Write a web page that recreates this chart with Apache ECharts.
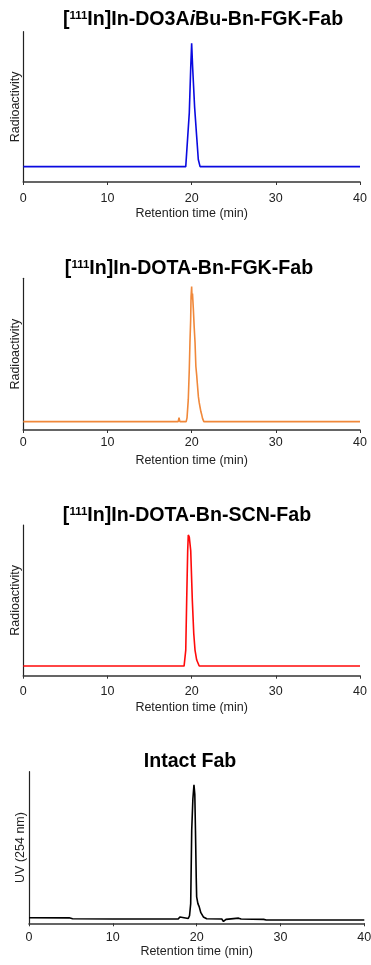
<!DOCTYPE html>
<html><head><meta charset="utf-8">
<script src="https://cdn.jsdelivr.net/npm/echarts@6/dist/echarts.min.js"></script>
<style>html,body{margin:0;padding:0;background:#fff}#c{width:371px;height:965px}</style>
</head><body><div id="c"></div>
<script>
var xTicks = [0, 10, 20, 30, 40];
var titles = ['[{sup|111}In]In-DO3A{it|i}Bu-Bn-FGK-Fab', '[{sup|111}In]In-DOTA-Bn-FGK-Fab', '[{sup|111}In]In-DOTA-Bn-SCN-Fab', 'Intact Fab'];
var yNames = ['Radioactivity', 'Radioactivity', 'Radioactivity', 'UV (254 nm)'];
var xName = 'Retention time (min)';
var trace1 = [[0,10.2],[19.3,10.2],[19.45,11],[19.72,46],[19.89,76],[20.0,92.3],[20.12,76],[20.35,50],[20.6,30],[20.79,15],[21.0,10.2],[40,10.2]];
var trace2 = [[0,5.5],[17.7,5.5],[17.8,6.2],[17.9,5.5],[18.4,5.5],[18.5,8.1],[18.6,5.5],[19.35,5.5],[19.45,8],[19.6,20],[19.72,40],[19.8,58],[19.88,72],[19.93,88],[20.0,94.5],[20.05,86],[20.1,90],[20.2,80],[20.3,68],[20.4,58],[20.5,42],[20.6,36],[20.67,31],[20.8,22],[20.9,18],[21.0,15],[21.1,12],[21.2,10],[21.3,7.5],[21.45,5.5],[40,5.5]];
var trace3 = [[0,6.4],[19.1,6.4],[19.3,17],[19.41,50],[19.53,83],[19.6,93.4],[19.72,92],[19.89,83],[20.08,50],[20.25,28],[20.4,17],[20.6,10.4],[20.9,6.4],[40,6.4]];
var trace4 = [[0,3.7],[4.8,3.6],[5.2,3.0],[10,2.8],[17.8,2.8],[18.0,4.2],[18.2,3.0],[19.0,3.2],[19.15,5],[19.29,13],[19.41,61],[19.55,82],[19.68,91.3],[19.78,85],[19.86,61],[19.95,30],[20.0,17.5],[20.15,13],[20.3,11],[20.5,7],[20.8,4.2],[21.2,3.0],[23.0,2.8],[23.2,1.2],[23.5,2.6],[25,3.4],[25.3,2.8],[28,2.6],[28.3,2.2],[40,2.2]];
var traces = [trace1, trace2, trace3, trace4];
var colors = ['#0a0ae0', '#f0883a', '#ff0a0a', '#000000'];

var FONT = "'Liberation Sans', Arial, sans-serif";
var grids = [
  {left: 23.3, top: 31.7, width: 336.7, height: 150.3},
  {left: 23.3, top: 278.3, width: 336.7, height: 151.7},
  {left: 23.3, top: 525, width: 336.7, height: 150.7},
  {left: 29, top: 771.7, width: 335.3, height: 151.6}
];
var titlePos = [{x: 198, y: 5}, {x: 184, y: 254}, {x: 182, y: 501}, {x: 185, y: 747}];
var labelMargin = [10.5, 6.5, 9.5, 7.5];
var nameGaps = [25, 24, 25, 12.5];

var option = {
  animation: false,
  title: titles.map(function (t, i) {
    return {
      text: t, left: titlePos[i].x, top: titlePos[i].y, textAlign: 'center',
      textStyle: {
        fontFamily: FONT, fontSize: 19.6, fontWeight: 'bold', color: '#000',
        rich: {
          sup: {fontFamily: FONT, fontSize: 11.5, fontWeight: 'bold', color: '#000', verticalAlign: 'top'},
          it: {fontFamily: FONT, fontSize: 19.6, fontWeight: 'bold', fontStyle: 'italic', color: '#000'}
        }
      }
    };
  }),
  grid: grids.map(function (g) { return Object.assign({outerBoundsMode: 'none', containLabel: false}, g); }),
  xAxis: grids.map(function (g, i) {
    return {
      type: 'value', gridIndex: i, min: xTicks[0], max: xTicks[xTicks.length - 1], interval: 10,
      name: xName, nameLocation: 'middle', nameGap: nameGaps[i],
      nameTextStyle: {fontFamily: FONT, fontSize: 12.5, color: '#222'},
      axisLine: {show: true, lineStyle: {color: '#333', width: 1.6}},
      axisTick: {show: true, length: 3, lineStyle: {color: '#333'}},
      axisLabel: {fontFamily: FONT, fontSize: 12.5, color: '#222', margin: labelMargin[i]},
      splitLine: {show: false}
    };
  }),
  yAxis: grids.map(function (g, i) {
    return {
      type: 'value', gridIndex: i, min: 0, max: 100,
      name: yNames[i], nameLocation: 'middle', nameGap: 1.5,
      nameTextStyle: {fontFamily: FONT, fontSize: 12.5, color: '#222'},
      axisLine: {show: true, lineStyle: {color: '#222', width: 1.2}},
      axisTick: {show: false}, axisLabel: {show: false}, splitLine: {show: false}
    };
  }),
  series: traces.map(function (d, i) {
    return {
      type: 'line', xAxisIndex: i, yAxisIndex: i, data: d, showSymbol: false, smooth: false,
      lineStyle: {color: colors[i], width: 1.6}, itemStyle: {color: colors[i]}
    };
  })
};
var chart = echarts.init(document.getElementById('c'));
chart.setOption(option);
</script></body></html>
